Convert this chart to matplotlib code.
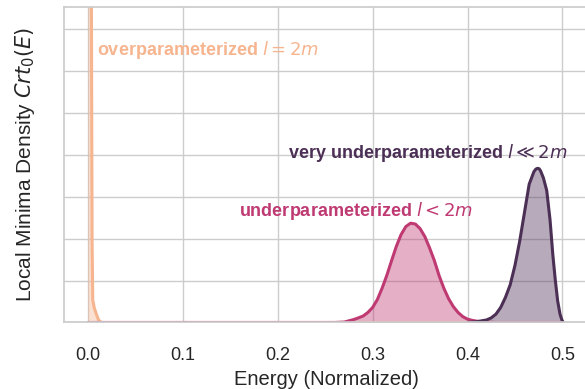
import matplotlib.pyplot as plt
import seaborn as sns

# curve samples (energy, density in grid units)
over_x = [0.0, 0.002, 0.0035, 0.0042, 0.0049, 0.0065, 0.0084, 0.011, 0.014, 0.5]
over_y = [80.0, 40.0, 7.6, 2.0, 0.54, 0.35, 0.22, 0.06, 0.0, 0.0]

under_x = [0.0, 0.26, 0.27, 0.28, 0.285, 0.29, 0.295, 0.30, 0.305, 0.31, 0.315, 0.32,
           0.325, 0.33, 0.335, 0.34, 0.345, 0.35, 0.355, 0.36, 0.365, 0.37, 0.375,
           0.38, 0.385, 0.39, 0.395, 0.40, 0.405, 0.41, 0.42, 0.43, 0.5]
under_y = [0.0, 0.0, 0.01, 0.07, 0.11, 0.155, 0.24, 0.36, 0.55, 0.82, 1.13, 1.48,
           1.82, 2.10, 2.29, 2.37, 2.35, 2.24, 2.05, 1.78, 1.48, 1.12, 0.82,
           0.57, 0.38, 0.24, 0.14, 0.08, 0.05, 0.03, 0.01, 0.0, 0.0]

very_x = [0.40, 0.41, 0.415, 0.42, 0.425, 0.43, 0.435, 0.44, 0.445, 0.45, 0.455,
          0.46, 0.465, 0.47, 0.472, 0.4738, 0.4755, 0.477, 0.48, 0.4835, 0.487,
          0.49, 0.4925, 0.495, 0.4975, 0.4995, 0.501]
very_y = [0.0, 0.02, 0.04, 0.06, 0.11, 0.20, 0.36, 0.60, 0.90, 1.36, 1.94,
          2.62, 3.30, 3.60, 3.66, 3.68, 3.67, 3.62, 3.45, 3.15, 2.45,
          1.60, 1.02, 0.52, 0.20, 0.06, 0.0]

C_OVER  = "#f6b48f"
C_UNDER = "#bf3a72"
C_VERY  = "#4b2f55"

sns.set_theme(style="whitegrid")
plt.rcParams["font.family"] = ["Liberation Sans", "DejaVu Sans"]

fig = plt.figure(figsize=(5.85, 3.89), dpi=100)
# axes runs right up to (just past) the figure's right edge, as in the reference
ax = fig.add_axes([0.1094, 0.171, 0.8957, 0.811])

for xs, ys, c in [(over_x, over_y, C_OVER), (under_x, under_y, C_UNDER), (very_x, very_y, C_VERY)]:
    ax.fill_between(xs, ys, color=c, alpha=0.4, lw=0)
    ax.plot(xs, ys, color=c, lw=2.2)

ax.text(0.0098, 6.5, "overparameterized $l = 2m$", color=C_OVER,
        fontsize=13, fontweight="bold", ha="left", va="center")
ax.text(0.1587, 2.66, "underparameterized $l < 2m$", color=C_UNDER,
        fontsize=13, fontweight="bold", ha="left", va="center")
ax.text(0.2103, 4.05, r"very underparameterized $l \ll 2m$", color=C_VERY,
        fontsize=13, fontweight="bold", ha="left", va="center")

ax.set_xlim(-0.0254, 0.527)
ax.set_ylim(0, 7.53)
ax.set_xticks([0.0, 0.1, 0.2, 0.3, 0.4, 0.5])
ax.set_yticks(range(8))
ax.set_yticklabels([])
ax.spines["right"].set_visible(False)
ax.tick_params(axis="x", labelsize=13, pad=12)
ax.set_xlabel("Energy (Normalized)", fontsize=14.5)
ax.set_ylabel("Local Minima Density $Crt_0(E)$", fontsize=15, labelpad=10)

fig.savefig("out.png", dpi=100)
